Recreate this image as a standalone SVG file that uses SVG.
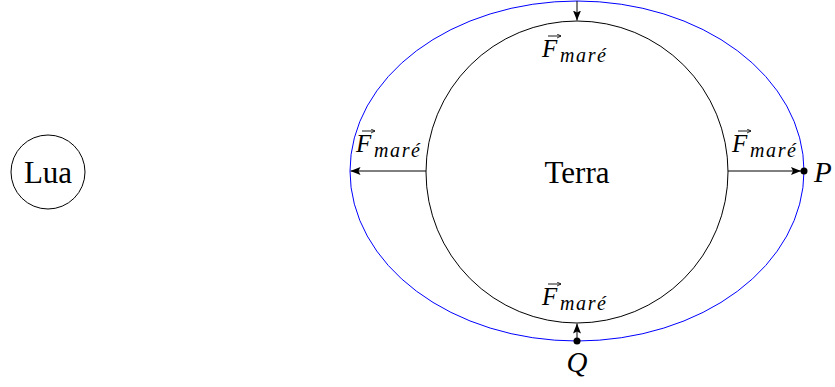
<svg xmlns="http://www.w3.org/2000/svg" width="835" height="387" viewBox="0 0 835 387">
<style>
  .ln{fill:none;stroke:#000;stroke-width:1}
  .vl{fill:none;stroke:#000;stroke-width:0.9}
  .big{font-family:"Liberation Serif","DejaVu Serif",serif;font-size:31px;fill:#000}
  .F{font-family:"Liberation Serif","DejaVu Serif",serif;font-style:italic;font-size:25px;fill:#000}
  .sub{font-family:"Liberation Serif","DejaVu Serif",serif;font-style:italic;font-size:20px;fill:#000;letter-spacing:1.6px}
  .pt{font-family:"Liberation Serif","DejaVu Serif",serif;font-style:italic;font-size:29px;fill:#000}
</style>
<defs>
  <marker id="ah" viewBox="0 0 10 10" refX="10" refY="5" markerWidth="10" markerHeight="10" markerUnits="userSpaceOnUse" orient="auto">
    <path d="M0,1 L10,5 L0,9 L2,5 Z" fill="#000"/>
  </marker>
  <marker id="vh" viewBox="0 0 10 10" refX="9" refY="5" markerWidth="5" markerHeight="5" markerUnits="userSpaceOnUse" orient="auto">
    <path d="M1,1 L9,5 L1,9" fill="none" stroke="#000" stroke-width="1.6"/>
  </marker>
</defs>
<g id="lua">
  <circle cx="48" cy="172" r="37" class="ln"/>
  <text x="48" y="183" text-anchor="middle" class="big">Lua</text>
</g>
<g id="mare">
  <ellipse cx="577" cy="171" rx="227" ry="170" fill="none" stroke="#0000ff" stroke-width="1"/>
</g>
<g id="terra">
  <circle cx="577" cy="172" r="151" class="ln"/>
  <text x="577" y="183" text-anchor="middle" class="big">Terra</text>
</g>
<g id="connectors">
  <line x1="577" y1="1" x2="577" y2="20.5" class="ln" marker-end="url(#ah)"/>
  <line x1="426" y1="171" x2="350.5" y2="171" class="ln" marker-end="url(#ah)"/>
  <line x1="728" y1="171" x2="801" y2="171" class="ln" marker-end="url(#ah)"/>
  <line x1="577" y1="341" x2="577" y2="323.5" class="ln" marker-end="url(#ah)"/>
</g>
<g id="P">
  <circle cx="804" cy="171" r="3.5" fill="#000"/>
  <text x="814" y="182" class="pt">P</text>
</g>
<g id="Q">
  <circle cx="577" cy="341" r="3.5" fill="#000"/>
  <text x="577" y="372" text-anchor="middle" class="pt">Q</text>
</g>
<g id="label-top">
  <line x1="548" y1="36" x2="561" y2="36" class="vl" marker-end="url(#vh)"/>
  <text x="542" y="57" class="F">F</text>
  <text x="560" y="62" class="sub">maré</text>
</g>
<g id="label-left">
  <line x1="362" y1="131" x2="375" y2="131" class="vl" marker-end="url(#vh)"/>
  <text x="356" y="152" class="F">F</text>
  <text x="374" y="157" class="sub">maré</text>
</g>
<g id="label-right">
  <line x1="738" y1="131" x2="751" y2="131" class="vl" marker-end="url(#vh)"/>
  <text x="732" y="152" class="F">F</text>
  <text x="750" y="157" class="sub">maré</text>
</g>
<g id="label-bottom">
  <line x1="548" y1="284" x2="561" y2="284" class="vl" marker-end="url(#vh)"/>
  <text x="542" y="305" class="F">F</text>
  <text x="560" y="310" class="sub">maré</text>
</g>
</svg>
